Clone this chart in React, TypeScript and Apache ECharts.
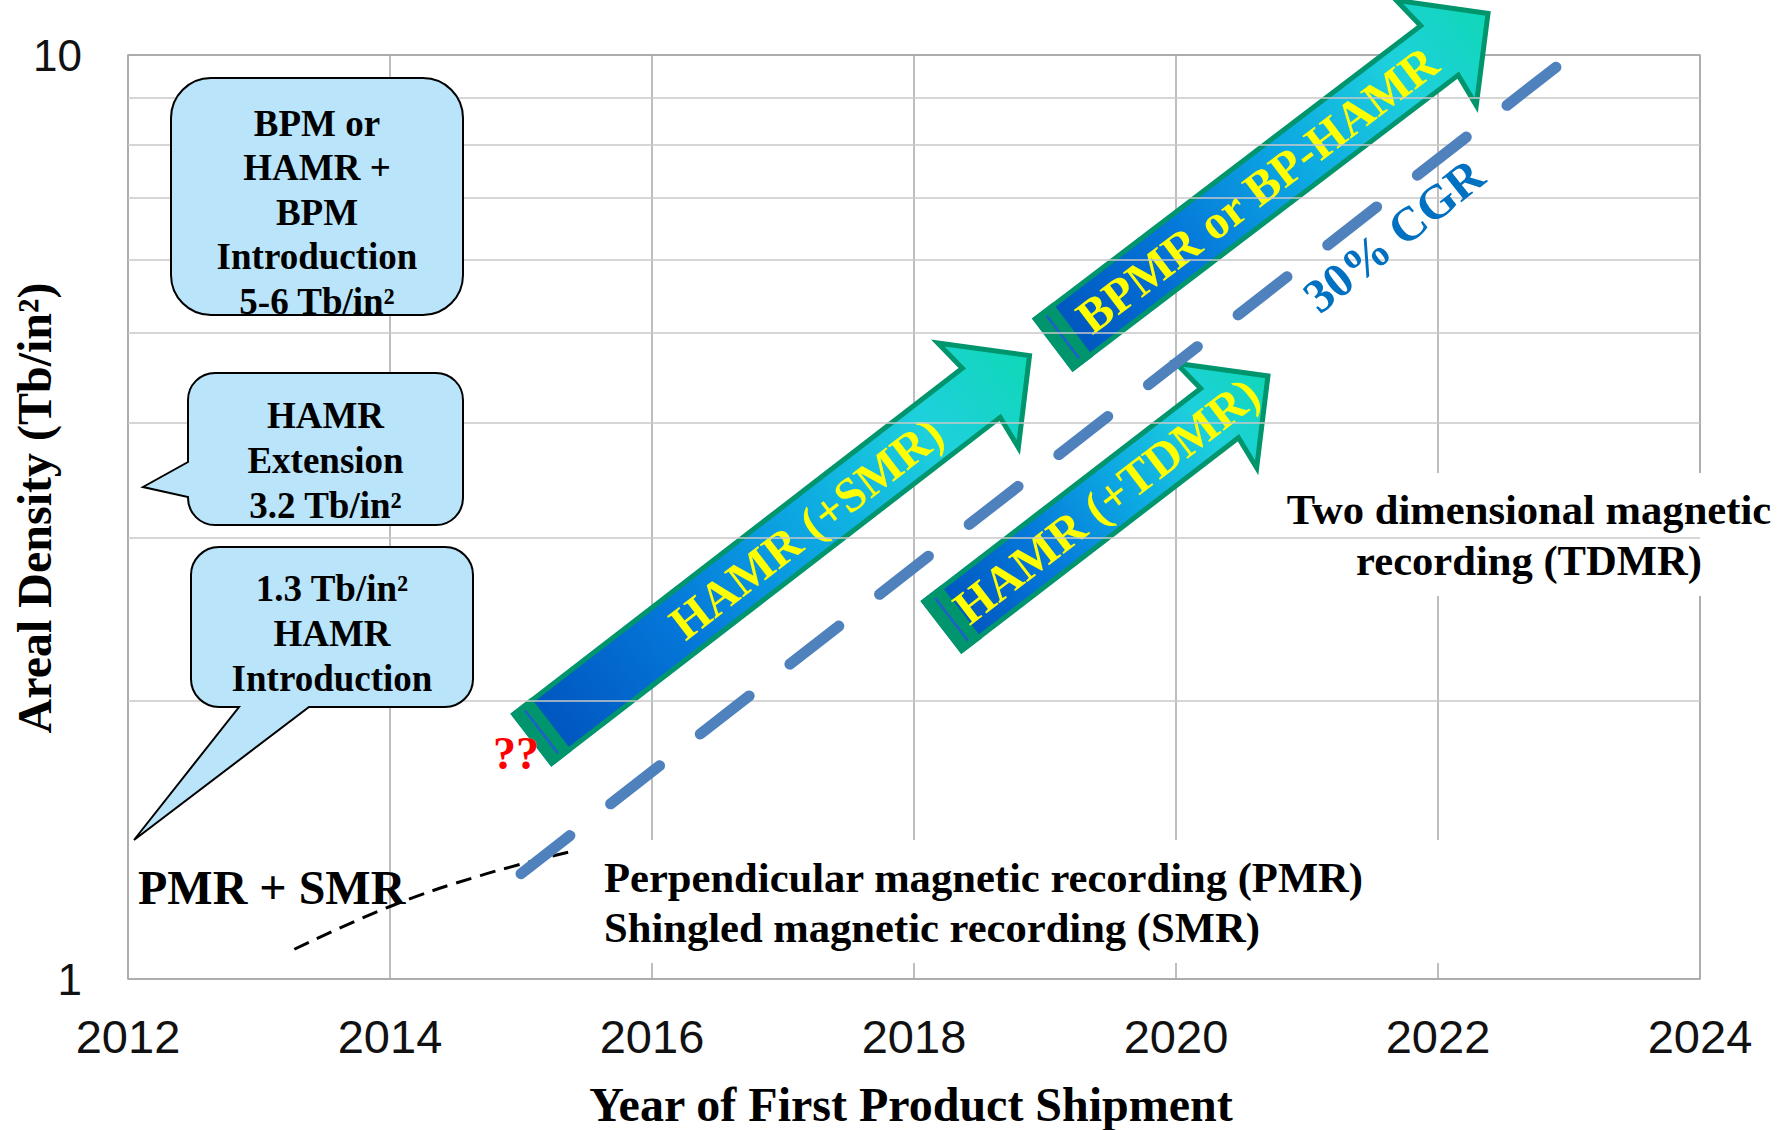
import React, { useEffect, useRef } from 'react';
import * as echarts from 'echarts';

// ---- Axis ticks ----
const yearTicks = [2012, 2014, 2016, 2018, 2020, 2022, 2024];
const densityRange = [1, 10];
const densityMinorLines = [2, 3, 4, 5, 6, 7, 8, 9];

// ---- Trends (year, Tb/in²) ----
const cgrTrend: number[][] = [
  [2015.0, 1.3],
  [2022.9, 9.7],
];
const pmrSmrCurve: number[][] = [
  [2013.27, 1.077],
  [2014.0, 1.198],
  [2014.69, 1.294],
  [2015.39, 1.375],
];

// ---- Technology arrows: tail and tip (year, Tb/in²) ----
const arrowNames = ['HAMR (+SMR)', 'BPMR or BP-HAMR', 'HAMR (+TDMR)'];
const arrowTails: number[][] = [
  [2015.09, 1.82],
  [2019.07, 4.87],
  [2018.22, 2.41],
];
const arrowTips: number[][] = [
  [2018.9, 4.75],
  [2022.4, 11.14],
  [2020.72, 4.515],
];

const cgrLabel = '30% CGR';
const cgrLabelAt = [2021.66, 6.38];

// ---- Layout ----
const W = 1789;
const H = 1130;
const SERIF = '"Liberation Serif", "Times New Roman", serif';
const SANS = '"Liberation Sans", Arial, sans-serif';
const GREEN = '#00956c';
const BOX_FILL = '#b9e4fa';

// arrow geometry in pixels (along / across the shaft)
const HALF_SHAFT = 31;
const HALF_HEAD = 66;
const NOTCH_BACK = 64;
const BARB_BACK = 68;
const TIP_INSET = 3;
const CAP = 21;
const arrowTextAt = [345, 255, 206];

// trend line dashes: 12 dashes spread evenly over the segment
const TREND_DASH = 62;
const TREND_DASH_COUNT = 12;

type Pointer = { side: 'left' | 'bottom'; from: number; to: number; tip: number[] };
type Callout = {
  lines: string[];
  box: number[];
  r: number;
  pointer?: Pointer;
  textY: number;
  lineHeight: number;
};

const callouts: Callout[] = [
  {
    lines: ['BPM or', 'HAMR +', 'BPM', 'Introduction', '5-6 Tb/in²'],
    box: [171, 78, 292, 237],
    r: 40,
    textY: 212,
    lineHeight: 44.5,
  },
  {
    lines: ['HAMR', 'Extension', '3.2 Tb/in²'],
    box: [188, 373, 275, 152],
    r: 27,
    pointer: { side: 'left', from: 462, to: 497, tip: [143, 487] },
    textY: 460,
    lineHeight: 45,
  },
  {
    lines: ['1.3 Tb/in²', 'HAMR', 'Introduction'],
    box: [191, 547, 282, 160],
    r: 28,
    pointer: { side: 'bottom', from: 239, to: 309, tip: [134, 840] },
    textY: 633,
    lineHeight: 45,
  },
];

const f = (n: number) => n.toFixed(1);

function calloutPath(c: Callout): string {
  const [x, y, w, h] = c.box;
  const r = c.r;
  const arc = (ex: number, ey: number) => `A ${r} ${r} 0 0 1 ${f(ex)} ${f(ey)}`;
  const p = c.pointer;
  let d = `M ${f(x + r)} ${f(y)} H ${f(x + w - r)} ${arc(x + w, y + r)} V ${f(y + h - r)} ${arc(x + w - r, y + h)}`;
  if (p && p.side === 'bottom') {
    d += ` H ${f(p.to)} L ${f(p.tip[0])} ${f(p.tip[1])} L ${f(p.from)} ${f(y + h)}`;
  }
  d += ` H ${f(x + r)} ${arc(x, y + h - r)}`;
  if (p && p.side === 'left') {
    d += ` V ${f(p.to)} L ${f(p.tip[0])} ${f(p.tip[1])} L ${f(x)} ${f(p.from)}`;
  }
  d += ` V ${f(y + r)} ${arc(x + r, y)} Z`;
  return d;
}

function arrowElements(
  tail: number[],
  tip: number[],
  label: string,
  textAt: number,
): any[] {
  const [tx, ty] = tail;
  const [hx, hy] = tip;
  const dx = hx - tx;
  const dy = hy - ty;
  const len = Math.hypot(dx, dy);
  const ux = dx / len;
  const uy = dy / len;
  const nx = uy;
  const ny = -ux;
  const P = (a: number, b: number) => [tx + ux * a + nx * b, ty + uy * a + ny * b];
  const angle = Math.atan2(-dy, dx);
  const outline = [
    P(0, HALF_SHAFT),
    P(len - NOTCH_BACK, HALF_SHAFT),
    P(len - BARB_BACK, HALF_HEAD),
    P(len - TIP_INSET, 0),
    P(len - BARB_BACK, -HALF_HEAD),
    P(len - NOTCH_BACK, -HALF_SHAFT),
    P(0, -HALF_SHAFT),
  ];
  const fill = {
    type: 'linear',
    x: tx,
    y: ty,
    x2: hx,
    y2: hy,
    global: true,
    colorStops: [
      { offset: 0, color: '#0052bc' },
      { offset: 0.3, color: '#0578da' },
      { offset: 0.55, color: '#0ca8e2' },
      { offset: 0.8, color: '#1ed0dc' },
      { offset: 1, color: '#0fd8b6' },
    ],
  };
  const c = P(textAt, 0);
  return [
    {
      type: 'polygon',
      z: 4,
      shape: { points: outline },
      style: { fill, stroke: GREEN, lineWidth: 5, lineJoin: 'miter' },
    },
    {
      type: 'polygon',
      z: 4,
      z2: 1,
      shape: { points: [P(0, HALF_SHAFT), P(CAP, HALF_SHAFT), P(CAP, -HALF_SHAFT), P(0, -HALF_SHAFT)] },
      style: { fill: GREEN, stroke: GREEN, lineWidth: 5, lineJoin: 'miter' },
    },
    {
      type: 'line',
      z: 4,
      z2: 2,
      shape: {
        x1: P(11, 27)[0],
        y1: P(11, 27)[1],
        x2: P(11, -27)[0],
        y2: P(11, -27)[1],
      },
      style: { stroke: '#1f5fcc', lineWidth: 2.5 },
    },
    {
      type: 'text',
      z: 4,
      z2: 3,
      x: c[0],
      y: c[1],
      rotation: angle,
      style: {
        text: label,
        fill: '#ffff00',
        font: `bold 48px ${SERIF}`,
        textAlign: 'center',
        textVerticalAlign: 'middle',
      },
    },
  ];
}

function textEl(
  text: string,
  x: number,
  y: number,
  size: number,
  opts: { color?: string; align?: string; lineHeight?: number; rotation?: number; z?: number } = {},
): any {
  return {
    type: 'text',
    z: opts.z ?? 9,
    x,
    y,
    rotation: opts.rotation ?? 0,
    style: {
      text,
      fill: opts.color ?? '#000',
      font: `bold ${size}px ${SERIF}`,
      textAlign: opts.align ?? 'center',
      textVerticalAlign: 'middle',
      lineHeight: opts.lineHeight ?? size,
    },
  };
}

function buildGraphics(toPx: (p: number[]) => number[]): any[] {
  const els: any[] = [];

  // white text backdrops that interrupt the grid
  els.push({
    type: 'rect',
    z: 3,
    shape: { x: 597, y: 840, width: 853, height: 123 },
    style: { fill: '#ffffff' },
  });
  els.push({
    type: 'rect',
    z: 3,
    shape: { x: 1225, y: 473, width: 564, height: 123 },
    style: { fill: '#ffffff' },
  });

  arrowNames.forEach((name, i) => {
    els.push(...arrowElements(toPx(arrowTails[i]), toPx(arrowTips[i]), name, arrowTextAt[i]));
  });

  const cg = toPx(cgrLabelAt);
  els.push(textEl(cgrLabel, cg[0], cg[1], 48, { color: '#0070c0', rotation: (38.5 * Math.PI) / 180 }));

  callouts.forEach((c, i) => {
    const name = `roadmapCallout${i}`;
    echarts.graphic.registerShape(name, echarts.graphic.extendPath(calloutPath(c), {}) as any);
    els.push({
      type: name,
      z: 8,
      style: { fill: BOX_FILL, stroke: '#000', lineWidth: 2, lineJoin: 'miter' },
    });
    const cx = c.box[0] + c.box[2] / 2;
    els.push(textEl(c.lines.join('\n'), cx, c.textY, 37, { lineHeight: c.lineHeight }));
  });

  els.push(textEl('??', 516, 753, 46, { color: '#ff0000' }));
  els.push(textEl('PMR + SMR', 138, 887, 48, { align: 'left' }));
  els.push(
    textEl('Perpendicular magnetic recording (PMR)\nShingled magnetic recording (SMR)', 604, 902.5, 42.6, {
      align: 'left',
      lineHeight: 50,
    }),
  );
  els.push(
    textEl('Two dimensional magnetic\nrecording (TDMR)', 1529, 535, 42.6, { lineHeight: 51.6 }),
  );

  // axis titles
  els.push(textEl('Year of First Product Shipment', 911, 1104, 48));
  els.push(textEl('Areal Density (Tb/in²)', 34, 508, 48, { rotation: Math.PI / 2 }));

  return els;
}

function baseOption(trendGap: number): any {
  return {
    animation: false,
    backgroundColor: '#ffffff',
    grid: {
      left: 128,
      right: 89,
      top: 55,
      bottom: 151,
      show: true,
      borderColor: '#a6a6a6',
      borderWidth: 1.5,
      backgroundColor: 'transparent',
    },
    xAxis: {
      type: 'value',
      min: yearTicks[0],
      max: yearTicks[yearTicks.length - 1],
      interval: yearTicks[1] - yearTicks[0],
      axisLine: { show: false },
      axisTick: { show: false },
      axisLabel: {
        fontFamily: SANS,
        fontSize: 47,
        color: '#111',
        margin: 34,
        formatter: (v: number) => String(v),
      },
      splitLine: { show: true, lineStyle: { color: '#a9a9a9', width: 1.5 } },
    },
    yAxis: {
      type: 'log',
      logBase: 10,
      min: densityRange[0],
      max: densityRange[1],
      axisLine: { show: false },
      axisTick: { show: false },
      axisLabel: {
        fontFamily: SANS,
        fontSize: 44,
        color: '#111',
        margin: 46,
        formatter: (v: number) => String(Math.round(v)),
      },
      splitLine: { show: true, lineStyle: { color: '#a9a9a9', width: 1.5 } },
    },
    series: [
      {
        name: 'minor grid',
        type: 'line',
        data: [],
        z: 1,
        silent: true,
        markLine: {
          silent: true,
          symbol: ['none', 'none'],
          label: { show: false },
          lineStyle: { color: '#c8c8c8', width: 1.5, type: 'solid' },
          data: densityMinorLines.map((v) => ({ yAxis: v })),
        },
      },
      {
        name: 'PMR + SMR',
        type: 'line',
        data: pmrSmrCurve,
        smooth: 0.4,
        symbol: 'none',
        z: 6,
        clip: false,
        lineStyle: { color: '#000', width: 3, type: [16, 9] },
      },
      {
        name: '30% CGR',
        type: 'line',
        data: cgrTrend,
        symbol: 'none',
        z: 7,
        clip: false,
        lineStyle: { color: '#4f81bd', width: 11, type: [TREND_DASH, trendGap], cap: 'round' },
      },
    ],
  };
}

export default function App() {
  const ref = useRef<HTMLDivElement>(null);
  useEffect(() => {
    const el = ref.current;
    if (!el) return;
    const chart = echarts.init(el, null, { renderer: 'svg' });
    chart.setOption(baseOption(50));
    const toPx = (p: number[]) => chart.convertToPixel({ gridIndex: 0 }, p) as number[];
    // fit the dash pattern so the trend ends on a full dash
    const a = toPx(cgrTrend[0]);
    const b = toPx(cgrTrend[cgrTrend.length - 1]);
    const trendLen = Math.hypot(b[0] - a[0], b[1] - a[1]);
    const gap = (trendLen - TREND_DASH * TREND_DASH_COUNT) / (TREND_DASH_COUNT - 1);
    chart.setOption(baseOption(gap));
    chart.setOption({ graphic: buildGraphics(toPx) });
    return () => chart.dispose();
  }, []);
  return (
    <div
      ref={ref}
      style={{ position: 'fixed', left: 0, top: 0, width: W, height: H, background: '#fff' }}
    />
  );
}
